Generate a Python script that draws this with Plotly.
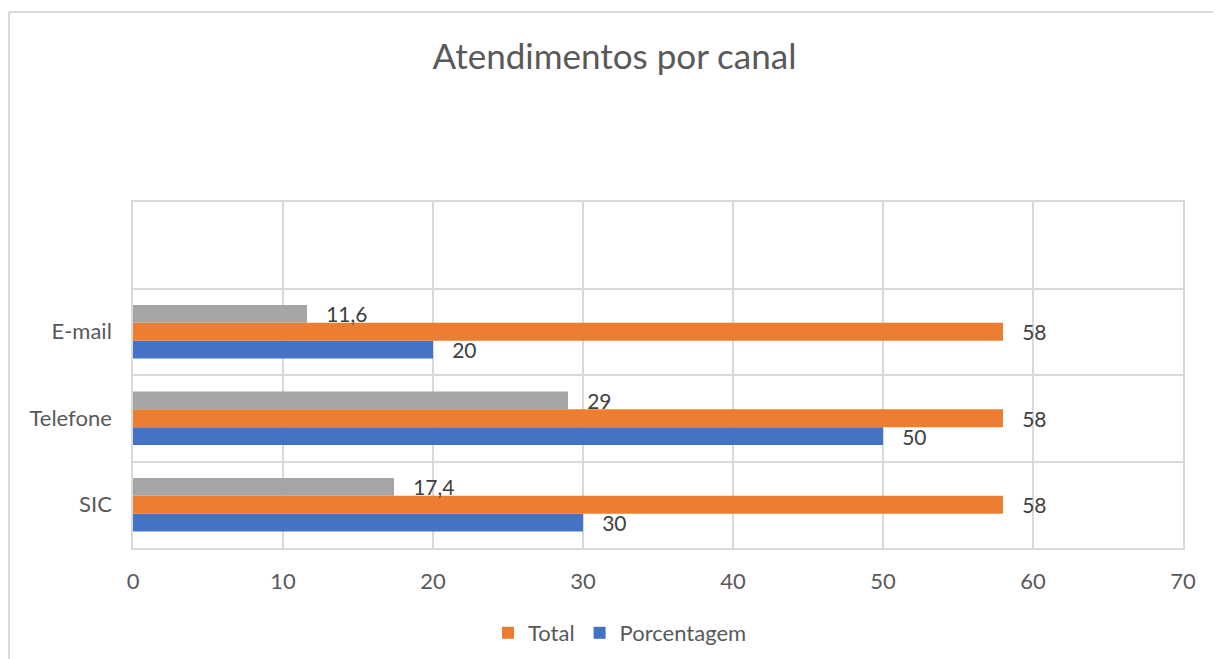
import plotly.graph_objects as go

categories = ["SIC", "Telefone", "E-mail"]
all_categories = ["SIC", "Telefone", "E-mail", " "]
porcentagem = [30, 50, 20]
total = [58, 58, 58]
extra = [17.4, 29, 11.6]

# page body has an 8px margin; work in figure coordinates
OFF = 8
W, H = 1221 - OFF, 659 - OFF
L = 133 - OFF
T = 202 - OFF
R = W - (1183 - OFF)
B = H - (548 - OFF)
pw, ph = W - L - R, H - T - B

FONT = "Lato, 'Open Sans', sans-serif"
TXT = "#595959"
GRID = "#D9D9D9"

fig = go.Figure()
series = [
    ("Porcentagem", porcentagem, "#4472C4", True),
    ("Total", total, "#ED7D31", True),
    ("Série 3", extra, "#A5A5A5", False),
]
for name, vals, color, show in series:
    fig.add_trace(go.Bar(
        y=categories, x=vals, name=name, orientation="h",
        marker=dict(color=color, line=dict(width=0)),
        showlegend=show,
        texttemplate="   %{x}", textposition="outside",
        constraintext="none",
        textfont=dict(size=21, color="#404040", family=FONT),
        cliponaxis=False,
    ))

fig.update_layout(
    width=W, height=H,
    margin=dict(l=L, r=R, t=T, b=B, autoexpand=False),
    paper_bgcolor="white", plot_bgcolor="white",
    barmode="group", bargap=0.38, bargroupgap=0,
    separators=",.",
    font=dict(family=FONT, color=TXT, size=22),
    title=dict(text="Atendimentos por canal", x=0.5, xanchor="center",
               y=1 - (57 - OFF) / H, yanchor="middle", yref="container",
               font=dict(size=35, color=TXT, family=FONT)),
    legend=dict(orientation="h", x=(620 - 133) / pw, xanchor="center",
                y=-(633 - 548) / ph, yanchor="middle",
                traceorder="reversed",
                font=dict(size=22, color=TXT, family=FONT)),
    xaxis=dict(range=[0, 70], dtick=10, showgrid=True, gridcolor=GRID,
               gridwidth=1.5, zeroline=False,
               showline=True, linecolor=GRID, linewidth=1.5, mirror=True,
               tickfont=dict(size=22, color=TXT), ticks="", ticklabelstandoff=13),
    yaxis=dict(type="category", categoryorder="array",
               categoryarray=all_categories, range=[-0.5, 3.5],
               tickson="boundaries", showgrid=True, gridcolor=GRID, gridwidth=1.5,
               showline=True, linecolor=GRID, linewidth=1.5, mirror=True,
               ticks="", tickfont=dict(size=22, color=TXT),
               zeroline=False, ticklabelstandoff=15),
)

# chart outer border (top and left visible)
bx = (9 - 133) / pw
by = 1 + (202 - 12) / ph
fig.add_shape(type="line", xref="paper", yref="paper",
              x0=bx, x1=1.2, y0=by, y1=by,
              line=dict(color=GRID, width=2))
fig.add_shape(type="line", xref="paper", yref="paper",
              x0=bx, x1=bx, y0=by, y1=-1,
              line=dict(color=GRID, width=2))

fig.write_html("out.html")
